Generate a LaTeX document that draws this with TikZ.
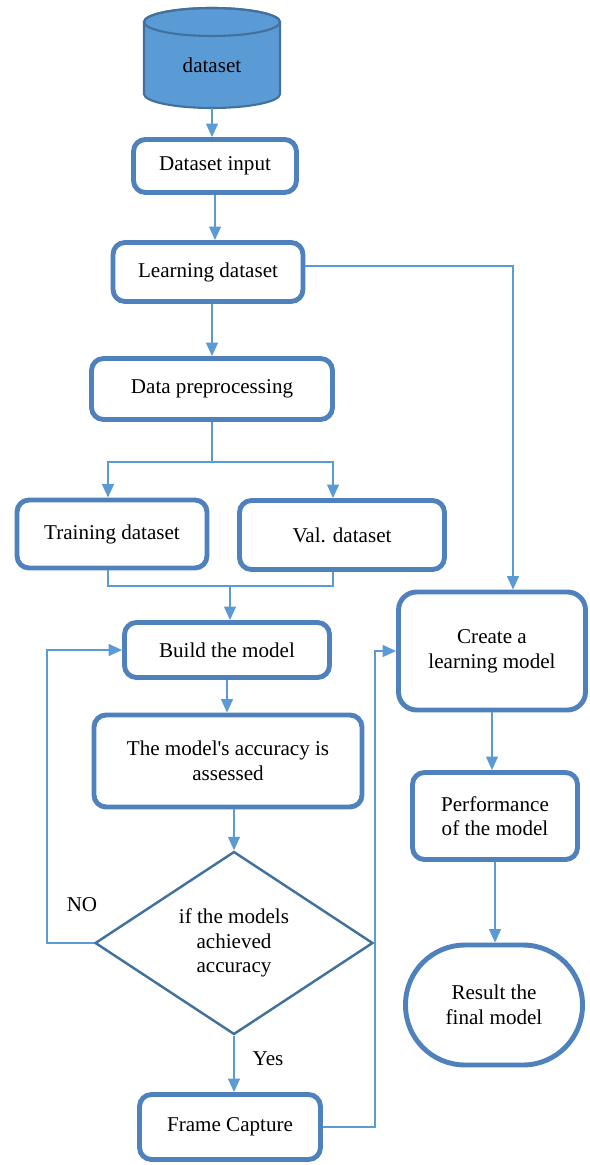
\documentclass[tikz,border=0pt]{standalone}
\usepackage{fontspec}
\setmainfont{Liberation Serif}
\usetikzlibrary{shapes.geometric,arrows.meta}
\definecolor{boxline}{HTML}{4F81BD}
\definecolor{wire}{HTML}{5B9BD5}
\definecolor{dbfill}{HTML}{5B9BD5}
\definecolor{dbline}{HTML}{41719C}
\tikzset{
  box/.style={draw=boxline, line width=2.8pt, rounded corners=0.24cm, align=center,
    font=\rmfamily\fontsize{12}{14}\selectfont, inner sep=2pt},
  wire/.style={draw=wire, line width=0.8pt},
  arr/.style={wire, -{Triangle[width=0.24cm,length=0.27cm]}},
  lbl/.style={font=\rmfamily\fontsize{12}{14}\selectfont}
}
\begin{document}
\begin{tikzpicture}[x=0.02cm,y=-0.02cm]
\useasboundingbox (0,0) rectangle (590,1165);
\filldraw[draw=dbline, fill=dbfill, line width=1.2pt] (144,22) -- (144,94)
  arc[start angle=180, end angle=360, x radius=1.36cm, y radius=0.28cm] -- (280,22)
  arc[start angle=0, end angle=180, x radius=1.36cm, y radius=0.28cm] -- cycle;
\draw[draw=dbline, line width=1.2pt] (212,22) ellipse[x radius=1.36cm, y radius=0.28cm];
\node[lbl] (db) at (212,65) {dataset};
\coordinate (dbbase) at (212,108);
\node[box, minimum width=3.26cm, minimum height=1.06cm] (inp) at (215,166) {Dataset input};
\node[box, minimum width=3.8cm, minimum height=1.18cm] (learn) at (208,272) {Learning dataset};
\node[box, minimum width=4.82cm, minimum height=1.22cm] (prep) at (212,389) {Data preprocessing};
\node[box, minimum width=3.8cm, minimum height=1.36cm] (train) at (112,534) {Training dataset};
\node[box, minimum width=4.1cm, minimum height=1.38cm] (val) at (342,535) {Val. dataset};
\node[box, minimum width=4.1cm, minimum height=1.1cm] (build) at (227,650) {Build the model};
\node[box, minimum width=5.36cm, minimum height=1.84cm] (acc) at (228,761) {The model\textquotesingle s accuracy is\\assessed};
\node[diamond, draw=dbline, line width=1.4pt, minimum width=5.56cm, minimum height=3.66cm, inner sep=0pt,
  align=center, font=\rmfamily\fontsize{12}{14}\selectfont] (dec) at (234,943) {if the models\\achieved\\accuracy};
\node[box, minimum width=3.62cm, minimum height=1.3cm] (frame) at (230,1127) {Frame Capture};
\node[box, rounded corners=0.36cm, minimum width=3.74cm, minimum height=2.36cm] (create) at (492,651) {Create a\\learning model};
\node[box, minimum width=3.3cm, minimum height=1.74cm] (perf) at (495,816) {Performance\\of the model};
\node[box, rounded corners=1.19cm, minimum width=3.54cm, minimum height=2.4cm] (result) at (494,1005) {Result the\\final model};
\coordinate (split) at (212,462);
\coordinate (merge) at (230,586);
\coordinate (noturn) at (47,943);
\coordinate (fret) at (375,1127);
\draw[arr] (dbbase) -- (dbbase |- inp.north);
\draw[arr] (inp.south) -- (inp.south |- learn.north);
\draw[arr] (prep.north |- learn.south) -- (prep.north);
\draw[wire] (prep.south) -- (split);
\draw[arr] (split) -| ([xshift=-0.08cm]train.north);
\draw[arr] (split) -| ([xshift=-0.18cm]val.north);
\draw[wire] ([xshift=-0.08cm]train.south) |- (merge) -| ([xshift=-0.18cm]val.south);
\draw[arr] (merge) -- (merge |- build.north);
\draw[arr] (build.south) -- (build.south |- acc.north);
\draw[arr] (dec.north |- acc.south) -- (dec.north);
\draw[arr] (dec.south) -- (dec.south |- frame.north);
\draw[arr] (dec.west) -- (noturn) |- (build.west);
\draw[arr] ([yshift=0.12cm]learn.east) -| ([xshift=0.42cm]create.north);
\draw[arr] (frame.east) -- (fret) |- (create.west);
\draw[arr] (create.south) -- (create.south |- perf.north);
\draw[arr] (perf.south) -- (perf.south |- result.north);
\node[lbl] (no) at (82,905) {NO};
\node[lbl] (yes) at (268,1059) {Yes};
\end{tikzpicture}
\end{document}
